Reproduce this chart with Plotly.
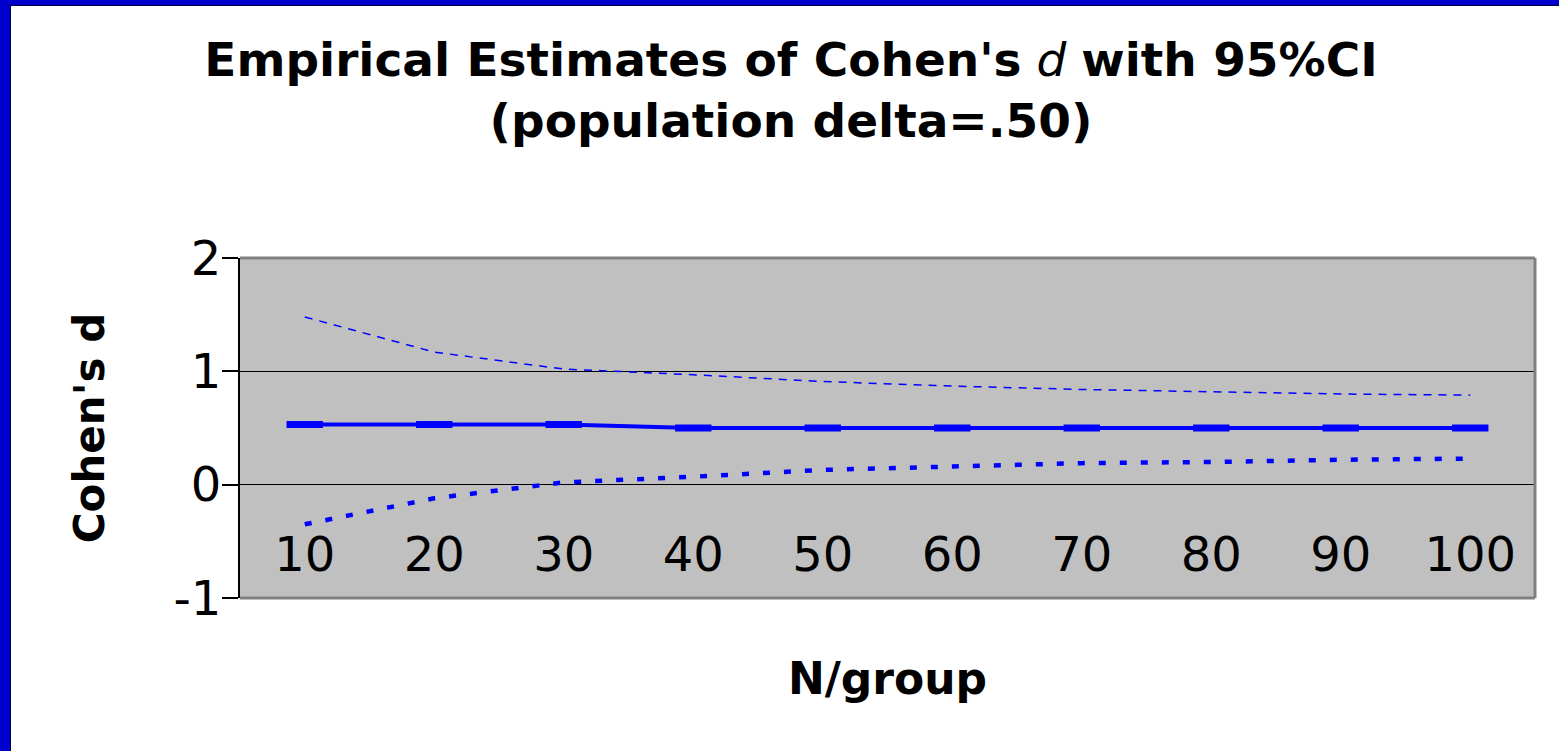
import plotly.graph_objects as go

# ---- data ----
n_per_group = ["10", "20", "30", "40", "50", "60", "70", "80", "90", "100"]
d_mean = [0.53, 0.53, 0.53, 0.50, 0.50, 0.50, 0.50, 0.50, 0.50, 0.50]
ci_upper = [1.48, 1.17, 1.02, 0.97, 0.91, 0.87, 0.84, 0.82, 0.80, 0.79]
ci_lower = [-0.35, -0.12, 0.02, 0.07, 0.13, 0.16, 0.19, 0.20, 0.22, 0.23]
y_ticks = [-1, 0, 1, 2]

W, H = 1559, 751
L, R, T, B = 240, 24, 258, 153
pw = W - L - R
ph = H - T - B

BLUE = "#0000FF"
fig = go.Figure()

fig.add_trace(go.Scatter(
    x=n_per_group, y=ci_upper, mode="lines",
    line=dict(color=BLUE, width=1.5, dash="8px,7px"),
    showlegend=False, hoverinfo="skip"))
fig.add_trace(go.Scatter(
    x=n_per_group, y=ci_lower, mode="lines",
    line=dict(color=BLUE, width=4.5, dash="7px,14px"),
    showlegend=False, hoverinfo="skip"))
fig.add_trace(go.Scatter(
    x=n_per_group, y=d_mean, mode="lines+markers",
    line=dict(color=BLUE, width=4),
    marker=dict(symbol="line-ew", size=26, line=dict(color=BLUE, width=7)),
    showlegend=False, hoverinfo="skip"))

TF = "DejaVu Sans, Arial, sans-serif"

fig.update_layout(
    width=W, height=H,
    margin=dict(l=L, r=R, t=T, b=B, pad=0),
    paper_bgcolor="white",
    plot_bgcolor="#C0C0C0",
    title=dict(
        text="<b>Empirical Estimates of Cohen's</b> <i>d</i> <b>with 95%CI</b><br><b>(population delta=.50)</b>",
        font=dict(family=TF, size=47, color="black"),
        x=791 / W, xref="container", xanchor="center",
        y=1 - 76 / H, yref="container", yanchor="top"),
    xaxis=dict(
        type="category", range=[-0.5, 9.5],
        anchor="free", position=0.224,
        showline=False, ticks="", showgrid=False, zeroline=False,
        tickfont=dict(family=TF, size=48, color="black"),
        title=dict(text="<b>N/group</b>", font=dict(family=TF, size=44, color="black"), standoff=82),
    ),
    yaxis=dict(
        range=[-1, 2], tickvals=y_ticks, ticktext=[str(v) for v in y_ticks],
        showline=True, linecolor="black", linewidth=2,
        ticks="outside", ticklen=16, tickcolor="black", tickwidth=2,
        ticklabelstandoff=-9,
        showgrid=True, gridcolor="black", gridwidth=1, zeroline=False,
        tickfont=dict(family=TF, size=48, color="black"),
        title=dict(text="<b>Cohen's d</b>", font=dict(family=TF, size=42, color="black"), standoff=56),
    ),
    shapes=[
        # plot-area frame (gray shadow border on top/right/bottom)
        dict(type="line", xref="paper", yref="paper", x0=0, x1=1, y0=1, y1=1,
             line=dict(color="#808080", width=3), layer="above"),
        dict(type="line", xref="paper", yref="paper", x0=1, x1=1, y0=0, y1=1,
             line=dict(color="#808080", width=3), layer="above"),
        dict(type="line", xref="paper", yref="paper", x0=0, x1=1, y0=0, y1=0,
             line=dict(color="#808080", width=3), layer="above"),
        # blue frame at page edges (left and top)
        dict(type="rect", xref="paper", yref="paper",
             x0=-L / pw, x1=(10 - L) / pw, y0=-B / ph, y1=(H - B) / ph,
             fillcolor="#0000CC", line=dict(width=0), layer="above"),
        dict(type="rect", xref="paper", yref="paper",
             x0=-L / pw, x1=(W - L) / pw, y0=(H - B - 5) / ph, y1=(H - B) / ph,
             fillcolor="#0000CC", line=dict(width=0), layer="above"),
        dict(type="line", xref="paper", yref="paper",
             x0=(10.5 - L) / pw, x1=(10.5 - L) / pw, y0=-B / ph, y1=(H - B - 5) / ph,
             line=dict(color="#000033", width=1), layer="above"),
        dict(type="line", xref="paper", yref="paper",
             x0=(10 - L) / pw, x1=(W - L) / pw, y0=(H - B - 5.5) / ph, y1=(H - B - 5.5) / ph,
             line=dict(color="#000033", width=1), layer="above"),
    ],
)

fig.write_html("out.html",
               config={"displayModeBar": False},
               post_script="document.body.style.margin='0px';document.body.style.overflow='hidden';")
